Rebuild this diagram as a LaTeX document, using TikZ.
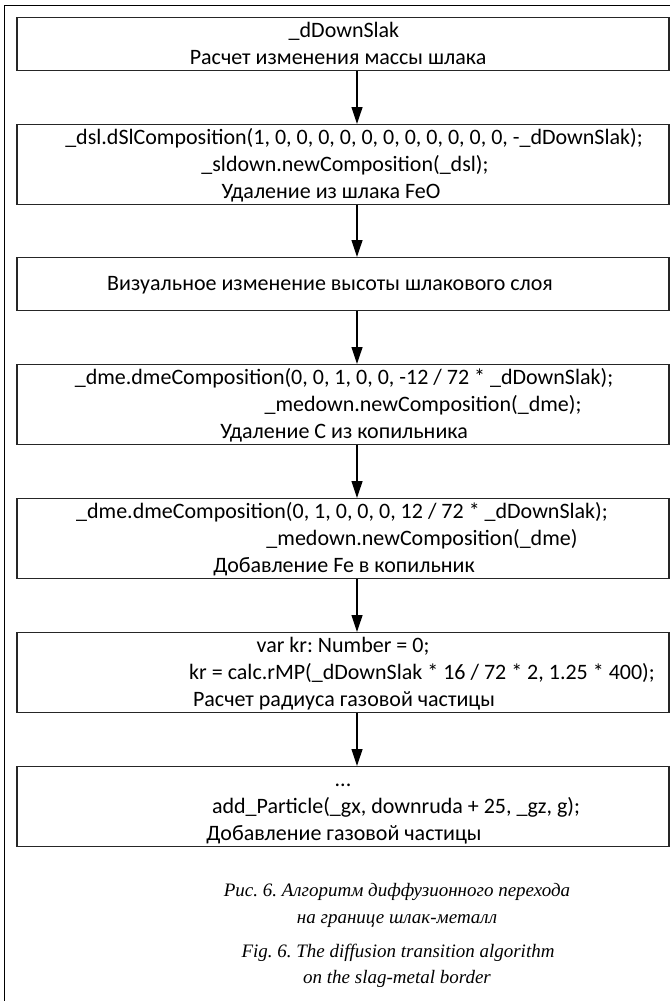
\documentclass[tikz,border=0pt]{standalone}
\usepackage{fontspec}
\setmainfont{Carlito}
\newfontfamily\capfont{Liberation Serif}
\usetikzlibrary{arrows.meta}
\frenchspacing
\begin{document}
\begin{tikzpicture}[x=1pt,y=-1pt,
  box/.style={draw=black!85, line width=1.4pt, minimum width=652pt, inner sep=0pt, anchor=north},
  ln/.style={anchor=center, inner sep=0pt, text height=14pt, text depth=0pt, font=\fontsize{22}{27}\selectfont},
  captext/.style={anchor=center, inner sep=0pt, text height=12pt, text depth=0pt, font=\capfont\itshape\fontsize{19}{23}\selectfont},
  arr/.style={line width=1.2pt, -{Triangle[length=17pt,width=11pt]}}
]
\useasboundingbox (0,0) rectangle (670,1001);
\draw[line width=1.3pt] (4.5,1001) -- (4.5,5.5) -- (670,5.5);

\node[box, minimum height=53pt] (b1) at (343,17) {};
\node[ln] (t1a) at (344,30) {\_dDownSlak};
\node[ln] (t1b) at (338,57) {Расчет изменения массы шлака};

\node[box, minimum height=80pt] (b2) at (343,124) {};
\node[ln] (t2a) at (354,137) {\_dsl.dSlComposition(1, 0, 0, 0, 0, 0, 0, 0, 0, 0, 0, 0, -\_dDownSlak);};
\node[ln] (t2b) at (345,164) {\_sldown.newComposition(\_dsl);};
\node[ln] (t2c) at (331,191) {Удаление из шлака FeO};

\node[box, minimum height=53pt] (b3) at (343,257) {};
\node[ln] (t3a) at (330,283.5) {Визуальное изменение высоты шлакового слоя};

\node[box, minimum height=80pt] (b4) at (343,364) {};
\node[ln] (t4a) at (344,377) {\_dme.dmeComposition(0, 0, 1, 0, 0, -12 / 72 * \_dDownSlak);};
\node[ln] (t4b) at (423,404) {\_medown.newComposition(\_dme);};
\node[ln] (t4c) at (344,431) {Удаление C из копильника};

\node[box, minimum height=80pt] (b5) at (343,498) {};
\node[ln] (t5a) at (342,511) {\_dme.dmeComposition(0, 1, 0, 0, 0, 12 / 72 * \_dDownSlak);};
\node[ln] (t5b) at (422,538) {\_medown.newComposition(\_dme)};
\node[ln] (t5c) at (344,565) {Добавление Fe в копильник};

\node[box, minimum height=80pt] (b6) at (343,632) {};
\node[ln] (t6a) at (343,645) {var kr: Number = 0;};
\node[ln] (t6b) at (422,672) {kr = calc.rMP(\_dDownSlak * 16 / 72 * 2, 1.25 * 400);};
\node[ln] (t6c) at (344,699) {Расчет радиуса газовой частицы};

\node[box, minimum height=80pt] (b7) at (343,766) {};
\node[ln] (t7a) at (343,779) {...};
\node[ln] (t7b) at (396,806) {add\_Particle(\_gx, downruda + 25, \_gz, g);};
\node[ln] (t7c) at (344,833) {Добавление газовой частицы};

\node[captext] (c1) at (397,890) {Рис. 6. Алгоритм диффузионного перехода};
\node[captext] (c2) at (397,917) {на границе шлак-металл};
\node[captext] (c3) at (398,951) {Fig. 6. The diffusion transition algorithm};
\node[captext] (c4) at (397,977) {on the slag-metal border};

\foreach \a/\b in {b1/b2,b2/b3,b3/b4,b4/b5,b5/b6,b6/b7}
  \draw[arr] ([xshift=14pt]\a.south) -- ([xshift=14pt]\b.north);
\end{tikzpicture}
\end{document}
